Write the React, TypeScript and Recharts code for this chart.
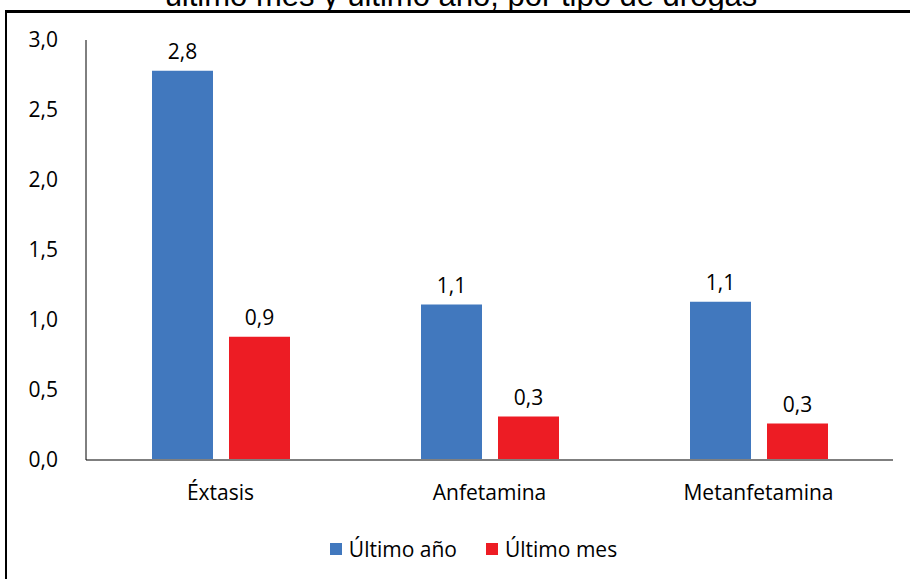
import * as React from 'react'
import { BarChart, Bar, XAxis, YAxis, Legend, LabelList } from 'recharts'

const categories = ['Éxtasis', 'Anfetamina', 'Metanfetamina']
const ultimoAno = [2.78, 1.11, 1.13]
const ultimoMes = [0.88, 0.31, 0.26]
const yTicks = [0, 0.5, 1, 1.5, 2, 2.5, 3]

const data = categories.map((name, i) => ({ name, ano: ultimoAno[i], mes: ultimoMes[i] }))

const fmt = (v: any) => Number(v).toFixed(1).replace('.', ',')
const FONT = "Open Sans, 'Noto Sans', sans-serif"
const FS = 21

const renderLegend = (props: any) => (
  <div style={{ display: 'flex', justifyContent: 'center', alignItems: 'center', paddingLeft: 54, fontFamily: FONT, fontSize: FS, color: '#000', lineHeight: '28px' }}>
    {props.payload.map((p: any, i: number) => (
      <span key={p.value} style={{ display: 'inline-flex', alignItems: 'center', marginLeft: i ? 29 : 0 }}>
        <span style={{ width: 12, height: 12, background: p.color, marginRight: 7, display: 'inline-block' }} />
        {p.value}
      </span>
    ))}
  </div>
)

export default function App() {
  return (
    <div style={{ position: 'fixed', left: 0, top: 0, width: 910, height: 579, overflow: 'hidden', background: '#fff' }}>
      {/* title sits above the frame and is clipped by the page edge, as in the source */}
      <div
        style={{
          position: 'absolute', left: 0, width: 922, top: -21, textAlign: 'center', whiteSpace: 'nowrap',
          fontFamily: "'Liberation Sans', Arial, sans-serif", fontSize: 31, lineHeight: '34px', color: '#000',
        }}
      >
        último mes y último año, por tipo de drogas
      </div>
      <div style={{ position: 'absolute', left: 5, top: 10, width: 920, height: 700, borderTop: '3px solid #000', borderLeft: '2px solid #000' }} />
      <div style={{ position: 'absolute', left: 0, top: 0 }}>
        <BarChart
          width={910}
          height={579}
          data={data}
          margin={{ top: 40, right: 17, left: 0, bottom: 16 }}
          barGap={16}
          barSize={61}
        >
          <XAxis
            dataKey="name"
            axisLine={{ stroke: '#7f7f7f', strokeWidth: 2 }}
            tickLine={false}
            tickMargin={19}
            height={75}
            tick={{ fill: '#000', fontSize: FS, fontFamily: FONT }}
          />
          <YAxis
            domain={[0, 3]}
            ticks={yTicks}
            width={86}
            axisLine={{ stroke: '#000', strokeWidth: 1 }}
            tickLine={false}
            tickSize={0}
            tickMargin={28}
            tickFormatter={fmt}
            tick={{ fill: '#000', fontSize: FS, fontFamily: FONT }}
          />
          <Legend verticalAlign="bottom" content={renderLegend} />
          <Bar dataKey="ano" name="Último año" fill="#4178BE" isAnimationActive={false}>
            <LabelList dataKey="ano" position="top" offset={12} formatter={fmt} style={{ fill: '#000', fontSize: FS, fontFamily: FONT }} />
          </Bar>
          <Bar dataKey="mes" name="Último mes" fill="#ED1C24" isAnimationActive={false}>
            <LabelList dataKey="mes" position="top" offset={12} formatter={fmt} style={{ fill: '#000', fontSize: FS, fontFamily: FONT }} />
          </Bar>
        </BarChart>
      </div>
    </div>
  )
}
